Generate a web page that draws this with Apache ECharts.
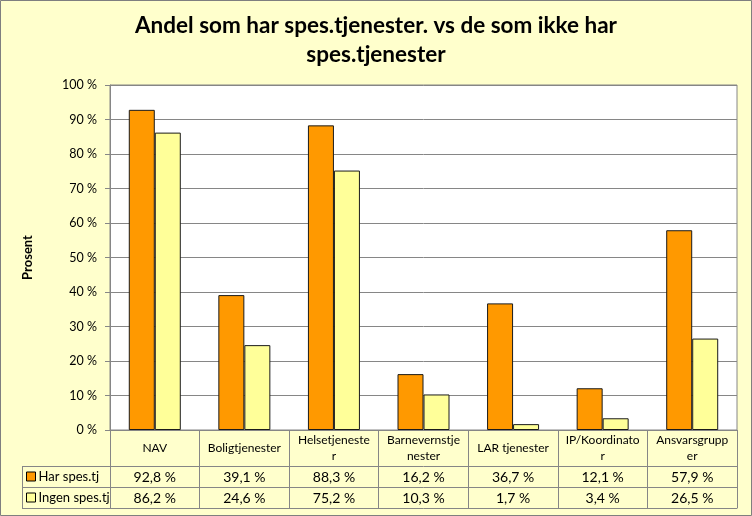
<!DOCTYPE html>
<html>
<head>
<meta charset="utf-8">
<script src="https://cdn.jsdelivr.net/npm/echarts@6/dist/echarts.min.js"></script>
<style>
html,body{margin:0;padding:0;background:#FFFFCC;}
#c{width:752px;height:516px;}
</style>
</head>
<body>
<div id="c"></div>
<script>
const categories = ["NAV", "Boligtjenester", "Helsetjeneste\nr", "Barnevernstje\nnester", "LAR tjenester", "IP/Koordinato\nr", "Ansvarsgrupp\ner"];
const seriesNames = ["Har spes.tj", "Ingen spes.tj"];
const harValues = [92.8, 39.1, 88.3, 16.2, 36.7, 12.1, 57.9];
const ingenValues = [86.2, 24.6, 75.2, 10.3, 1.7, 3.4, 26.5];
const yTicks = [0, 10, 20, 30, 40, 50, 60, 70, 80, 90, 100];
const titleText = "Andel som har spes.tjenester. vs de som ikke har\nspes.tjenester";
const yAxisName = "Prosent";

const fmt = v => v.toFixed(1).replace('.', ',') + ' %';
const FONT = 'Lato';
const GRID = '#868686';
const chart = echarts.init(document.getElementById('c'), null, {renderer: 'canvas'});

const tableAxis = (data, offset, margin) => ({
  type: 'category', position: 'bottom', gridIndex: 0, offset: offset, data: data,
  axisLine: {show: true, lineStyle: {color: GRID, width: 1}},
  axisTick: {show: true, length: 21, interval: 0, lineStyle: {color: GRID}},
  axisLabel: {show: true, interval: 0, margin: margin, verticalAlign: 'middle',
    fontFamily: FONT, fontSize: 14, color: '#000'},
  splitLine: {show: false}
});

chart.setOption({
  backgroundColor: '#FFFFCC',
  animation: false,
  title: {
    text: titleText, left: 'center', top: 6,
    textStyle: {fontFamily: FONT, fontWeight: 'bold', fontSize: 22.5, color: '#000', lineHeight: 29}
  },
  legend: {
    orient: 'vertical', left: 26, top: 470, padding: 0, itemWidth: 9, itemHeight: 9, itemGap: 8,
    icon: 'rect', itemStyle: {borderColor: '#000', borderWidth: 1},
    textStyle: {fontFamily: FONT, fontSize: 13, color: '#000', lineHeight: 13, padding: [0,0,0,-2]},
    data: seriesNames
  },
  grid: {left: 110, right: 15, top: 85, bottom: 86, show: true, backgroundColor: '#FFFFFF', borderColor: GRID, borderWidth: 1},
  xAxis: [
    {
      type: 'category', data: categories, position: 'bottom',
      axisLine: {show: true, lineStyle: {color: GRID}},
      axisTick: {show: true, length: 36, interval: 0, lineStyle: {color: GRID}},
      axisLabel: {interval: 0, margin: 18, verticalAlign: 'middle', lineHeight: 16,
        fontFamily: FONT, fontSize: 12, color: '#000'}
    },
    tableAxis(harValues.map(fmt), 36, 11),
    tableAxis(ingenValues.map(fmt), 57, 11),
    Object.assign(tableAxis(categories, 78, 0), {axisTick: {show: false}, axisLabel: {show: false}})
  ],
  yAxis: {
    type: 'value', min: yTicks[0], max: yTicks[yTicks.length - 1], interval: 10,
    name: yAxisName, nameLocation: 'middle', nameGap: 76, nameRotate: 90,
    nameTextStyle: {fontFamily: FONT, fontWeight: 'bold', fontSize: 13, color: '#000'},
    axisLine: {show: true, lineStyle: {color: GRID}},
    axisTick: {show: true, length: 5, lineStyle: {color: GRID}},
    axisLabel: {formatter: '{value} %', margin: 13, fontFamily: FONT, fontSize: 12.5, color: '#000'},
    splitLine: {show: true, lineStyle: {color: GRID, width: 1}}
  },
  series: [
    {name: seriesNames[0], type: 'bar', data: harValues, barWidth: 26, barGap: '0%',
      itemStyle: {color: '#FF9900', borderColor: '#1a1a1a', borderWidth: 1}},
    {name: seriesNames[1], type: 'bar', data: ingenValues, barWidth: 26, barGap: '0%',
      itemStyle: {color: '#FFFF99', borderColor: '#1a1a1a', borderWidth: 1}}
  ],
  graphic: [
    {type: 'rect', shape: {x: 0.5, y: 0.5, width: 751, height: 515}, style: {fill: null, stroke: '#7f7f7f', lineWidth: 1}, silent: true, z: 100},
    {type: 'line', shape: {x1: 22, y1: 466.5, x2: 110, y2: 466.5}, style: {stroke: GRID, lineWidth: 1}, silent: true},
    {type: 'line', shape: {x1: 22, y1: 487.5, x2: 110, y2: 487.5}, style: {stroke: GRID, lineWidth: 1}, silent: true},
    {type: 'line', shape: {x1: 22, y1: 508.5, x2: 110, y2: 508.5}, style: {stroke: GRID, lineWidth: 1}, silent: true},
    {type: 'line', shape: {x1: 22.5, y1: 466, x2: 22.5, y2: 509}, style: {stroke: GRID, lineWidth: 1}, silent: true}
  ]
});
</script>
</body>
</html>
